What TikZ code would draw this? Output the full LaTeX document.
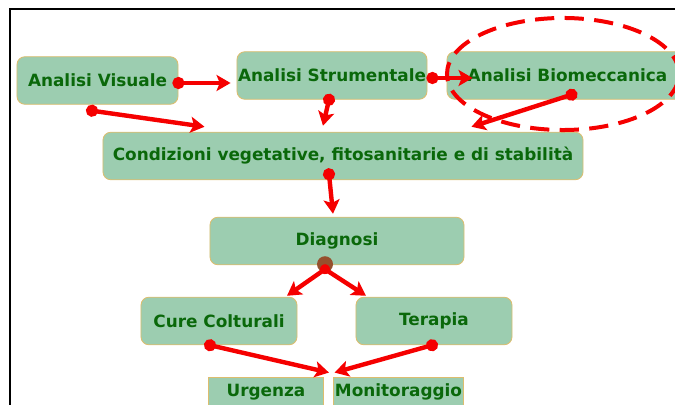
\documentclass[tikz,border=0pt]{standalone}
\usepackage{fontspec}
\setmainfont{DejaVu Sans}
\usetikzlibrary{shapes,arrows.meta,positioning}

\definecolor{boxfill}{RGB}{156,205,176}
\definecolor{boxline}{RGB}{221,189,110}
\definecolor{labelgreen}{RGB}{10,104,10}
\definecolor{linkred}{RGB}{245,0,0}
\definecolor{knotbrown}{RGB}{150,80,45}

\begin{document}
\begin{tikzpicture}[
    x=0.025cm, y=-0.025cm,
    phase/.style={rectangle, rounded corners=0.2cm, draw=boxline, line width=0.6pt, fill=boxfill, text=labelgreen, font=\fontsize{12}{14}\selectfont\bfseries, minimum height=1.19cm, inner sep=0pt},
    outcome/.style={phase, sharp corners, minimum height=0.75cm},
    link/.style={linkred, line width=0.11cm, shorten <=-0.15cm, {Circle[length=0.3cm]}-{Stealth[length=0.35cm, width=0.4cm, inset=0.08cm]}},
    knot/.style={circle, fill=knotbrown, minimum size=0.4cm, inner sep=0pt},
    focus/.style={ellipse, draw=linkred, line width=0.1cm, dash pattern=on 0.48cm off 0.26cm, minimum width=5.8cm, minimum height=2.8cm, inner sep=0pt}
]
\useasboundingbox (0,0) rectangle (675,405);

% Slide frame
\draw[black, line width=0.8pt] (10,405) -- (10,9) -- (675,9);

% Analysis row
\node[phase, minimum width=4.025cm] (visuale) at (97.5,80.5) {Analisi Visuale};
\node[phase, minimum width=4.75cm] (strumentale) at (332,75.5) {Analisi Strumentale};
\node[phase, minimum width=6.025cm] (biomeccanica) at (567.5,75.5) {Analisi Biomeccanica};

% Conditions and diagnosis
\node[phase, minimum width=12cm] (condizioni) at (343,156) {Condizioni vegetative, fitosanitarie e di stabilità};
\node[phase, minimum width=6.35cm] (diagnosi) at (337,241) {Diagnosi};

% Interventions
\node[phase, minimum width=3.9cm] (cure) at (219,321) {Cure Colturali};
\node[phase, minimum width=3.9cm] (terapia) at (434,321) {Terapia};
\node[outcome, minimum width=2.875cm] (urgenza) at (266,392) {Urgenza};
\node[outcome, minimum width=3.25cm] (monitoraggio) at (398.5,392) {Monitoraggio};

% Branch point under the diagnosis
\node[knot] (nodo) at ([shift={(-12,-1)}]diagnosi.south) {};

% Analysis flow
\draw[link] ([shift={(0,2.5)}]visuale.east) -- ([shift={(-6,2.5)}]visuale.east -| strumentale.west);
\draw[link] ([shift={(-5.5,6)}]visuale.south) -- ([shift={(102,-5)}]condizioni.north west);
\draw[link] ([shift={(-3,0)}]strumentale.south) -- ([shift={(-20,-6)}]condizioni.north);
\draw[link] ([shift={(5,2.5)}]strumentale.east) -- ([shift={(26,2.5)}]biomeccanica.west);
\draw[link] ([shift={(4,-5)}]biomeccanica.south) -- ([shift={(-112,-5)}]condizioni.north east);
\draw[link] ([shift={(-14,-6)}]condizioni.south) -- ([shift={(-4,-3)}]diagnosi.north);

% Diagnosis branches
\draw[link, shorten <=-0.12cm, {Circle[length=0.24cm]}-{Stealth[length=0.35cm, width=0.4cm, inset=0.08cm]}] ([shift={(0,5)}]nodo.center) -- ([shift={(68,-1)}]cure.north);
\draw[link, shorten <=-0.12cm, {Circle[length=0.24cm]}-{Stealth[length=0.35cm, width=0.4cm, inset=0.08cm]}] ([shift={(0,5)}]nodo.center) -- ([shift={(-68,-1)}]terapia.north);

% Towards the outcomes
\draw[link] ([shift={(-9,0)}]cure.south) -- ([shift={(5,-4)}]urgenza.north east);
\draw[link] ([shift={(-2,0)}]terapia.south) -- ([shift={(1.5,-4)}]monitoraggio.north west);

% Highlight of the biomechanical analysis
\node[focus] (evidenza) at (563,74) {};

\end{tikzpicture}
\end{document}
